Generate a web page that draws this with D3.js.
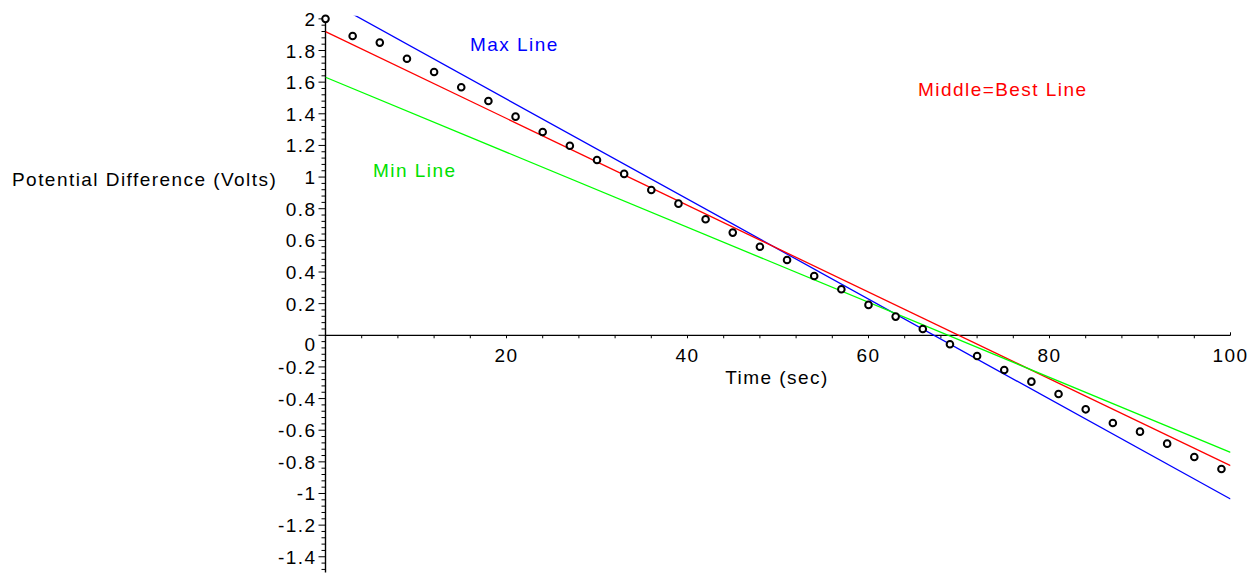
<!DOCTYPE html>
<html>
<head>
<meta charset="utf-8">
<script src="https://cdn.jsdelivr.net/npm/d3@7"></script>
<style>
  html, body { margin: 0; padding: 0; background: #fff; }
  svg { display: block; }
  text { font-family: "Liberation Sans", Arial, sans-serif; font-size: 19px; letter-spacing: 1.45px; }
</style>
</head>
<body>
<svg id="chart" width="1258" height="573"></svg>
<script>
// ---- data ----
const times = [0,3,6,9,12,15,18,21,24,27,30,33,36,39,42,45,48,51,54,57,60,63,66,69,72,75,78,81,84,87,90,93,96,99];
const voltages = [2.0,1.892,1.850,1.748,1.664,1.568,1.481,1.382,1.285,1.198,1.108,1.020,0.918,0.832,0.733,0.649,0.560,0.476,0.375,0.291,0.192,0.118,0.040,-0.057,-0.131,-0.219,-0.293,-0.371,-0.468,-0.554,-0.609,-0.685,-0.769,-0.845];
const lineTimes = [0, 100];
const maxLine = [2.125, -1.035];
const bestLine = [1.919, -0.824];
const minLine = [1.631, -0.740];
const xTickLabels = [20, 40, 60, 80, 100];
const yTickLabels = [-1.4,-1.2,-1,-0.8,-0.6,-0.4,-0.2,0,0.2,0.4,0.6,0.8,1,1.2,1.4,1.6,1.8,2];
const labels = { max: "Max Line", best: "Middle=Best Line", min: "Min Line", x: "Time (sec)", y: "Potential Difference (Volts)" };

// ---- scales ----
const svg = d3.select("#chart");
const x = d3.scaleLinear().domain([0, 100]).range([325.5, 1230.5]);
const y = d3.scaleLinear().domain([-1.5, 2.02]).range([572.6, 15.7]);

svg.append("defs").append("clipPath").attr("id", "clip")
  .append("rect").attr("x", x(0)).attr("y", y(2.02)).attr("width", x(100) - x(0)).attr("height", y(-1.5) - y(2.02));

// ---- axes ----
const xMinor = d3.range(0, 100.001, 4).filter(v => v > 0);
const yMinor = d3.range(-1.48, 2.021, 0.04).map(v => Math.round(v * 100) / 100);

// X axis
const xAxisG = svg.append("g").attr("transform", `translate(0,${y(0)})`);
xAxisG.append("line").attr("x1", x(0)).attr("x2", x(100)).attr("stroke", "#000").attr("stroke-width", 1.2);
xAxisG.selectAll("line.minor").data(xMinor).enter().append("line")
  .attr("x1", d => x(d)).attr("x2", d => x(d)).attr("y1", 0).attr("y2", d => d === 100 ? -3 : 3)
  .attr("stroke", "#000").attr("stroke-width", 1);
xAxisG.selectAll("text").data(xTickLabels).enter().append("text")
  .attr("x", d => x(d)).attr("y", 27).attr("text-anchor", "middle").attr("fill", "#000").text(d => d);

// Y axis
const yAxisG = svg.append("g").attr("transform", `translate(${x(0)},0)`);
yAxisG.append("line").attr("y1", y(2.02)).attr("y2", y(-1.5)).attr("stroke", "#000").attr("stroke-width", 1.4);
yAxisG.selectAll("line.minor").data(yMinor).enter().append("line")
  .attr("x1", d => {
    const isMajor = Math.abs(Math.round(d * 5) - d * 5) < 1e-6;
    return isMajor ? -7 : -4;
  })
  .attr("x2", 0).attr("y1", d => y(d)).attr("y2", d => y(d))
  .attr("stroke", "#000").attr("stroke-width", 1);
yAxisG.selectAll("text").data(yTickLabels).enter().append("text")
  .attr("x", -9).attr("y", d => y(d) + (d === 0 ? 16 : 7)).attr("text-anchor", "end").attr("fill", "#000")
  .text(d => d3.format("")(d).replace("−", "-"));

// ---- lines ----
const line = d3.line().x(d => x(d[0])).y(d => y(d[1]));
const plot = svg.append("g").attr("clip-path", "url(#clip)");
[[maxLine, "#0000ff"], [bestLine, "#ff0000"], [minLine, "#00ff00"]].forEach(([vals, col]) => {
  plot.append("path").datum(lineTimes.map((t, i) => [t, vals[i]]))
    .attr("d", line).attr("fill", "none").attr("stroke", col).attr("stroke-width", 1.3);
});

// ---- points ----
svg.append("g").selectAll("circle").data(times.map((t, i) => [t, voltages[i]])).enter().append("circle")
  .attr("cx", d => x(d[0])).attr("cy", d => y(d[1])).attr("r", 3.3)
  .attr("fill", "#fff").attr("stroke", "#000").attr("stroke-width", 2);

// ---- labels ----
svg.append("text").attr("x", 470).attr("y", 50.5).attr("fill", "#0000ff").text(labels.max);
svg.append("text").attr("x", 918).attr("y", 95.5).attr("fill", "#ff0000").text(labels.best);
svg.append("text").attr("x", 373).attr("y", 176.5).attr("fill", "#00e000").text(labels.min);
svg.append("text").attr("x", 777).attr("y", 383.5).attr("text-anchor", "middle").attr("fill", "#000").text(labels.x);
svg.append("text").attr("x", 12).attr("y", 185.5).attr("fill", "#000").text(labels.y);
</script>
</body>
</html>
